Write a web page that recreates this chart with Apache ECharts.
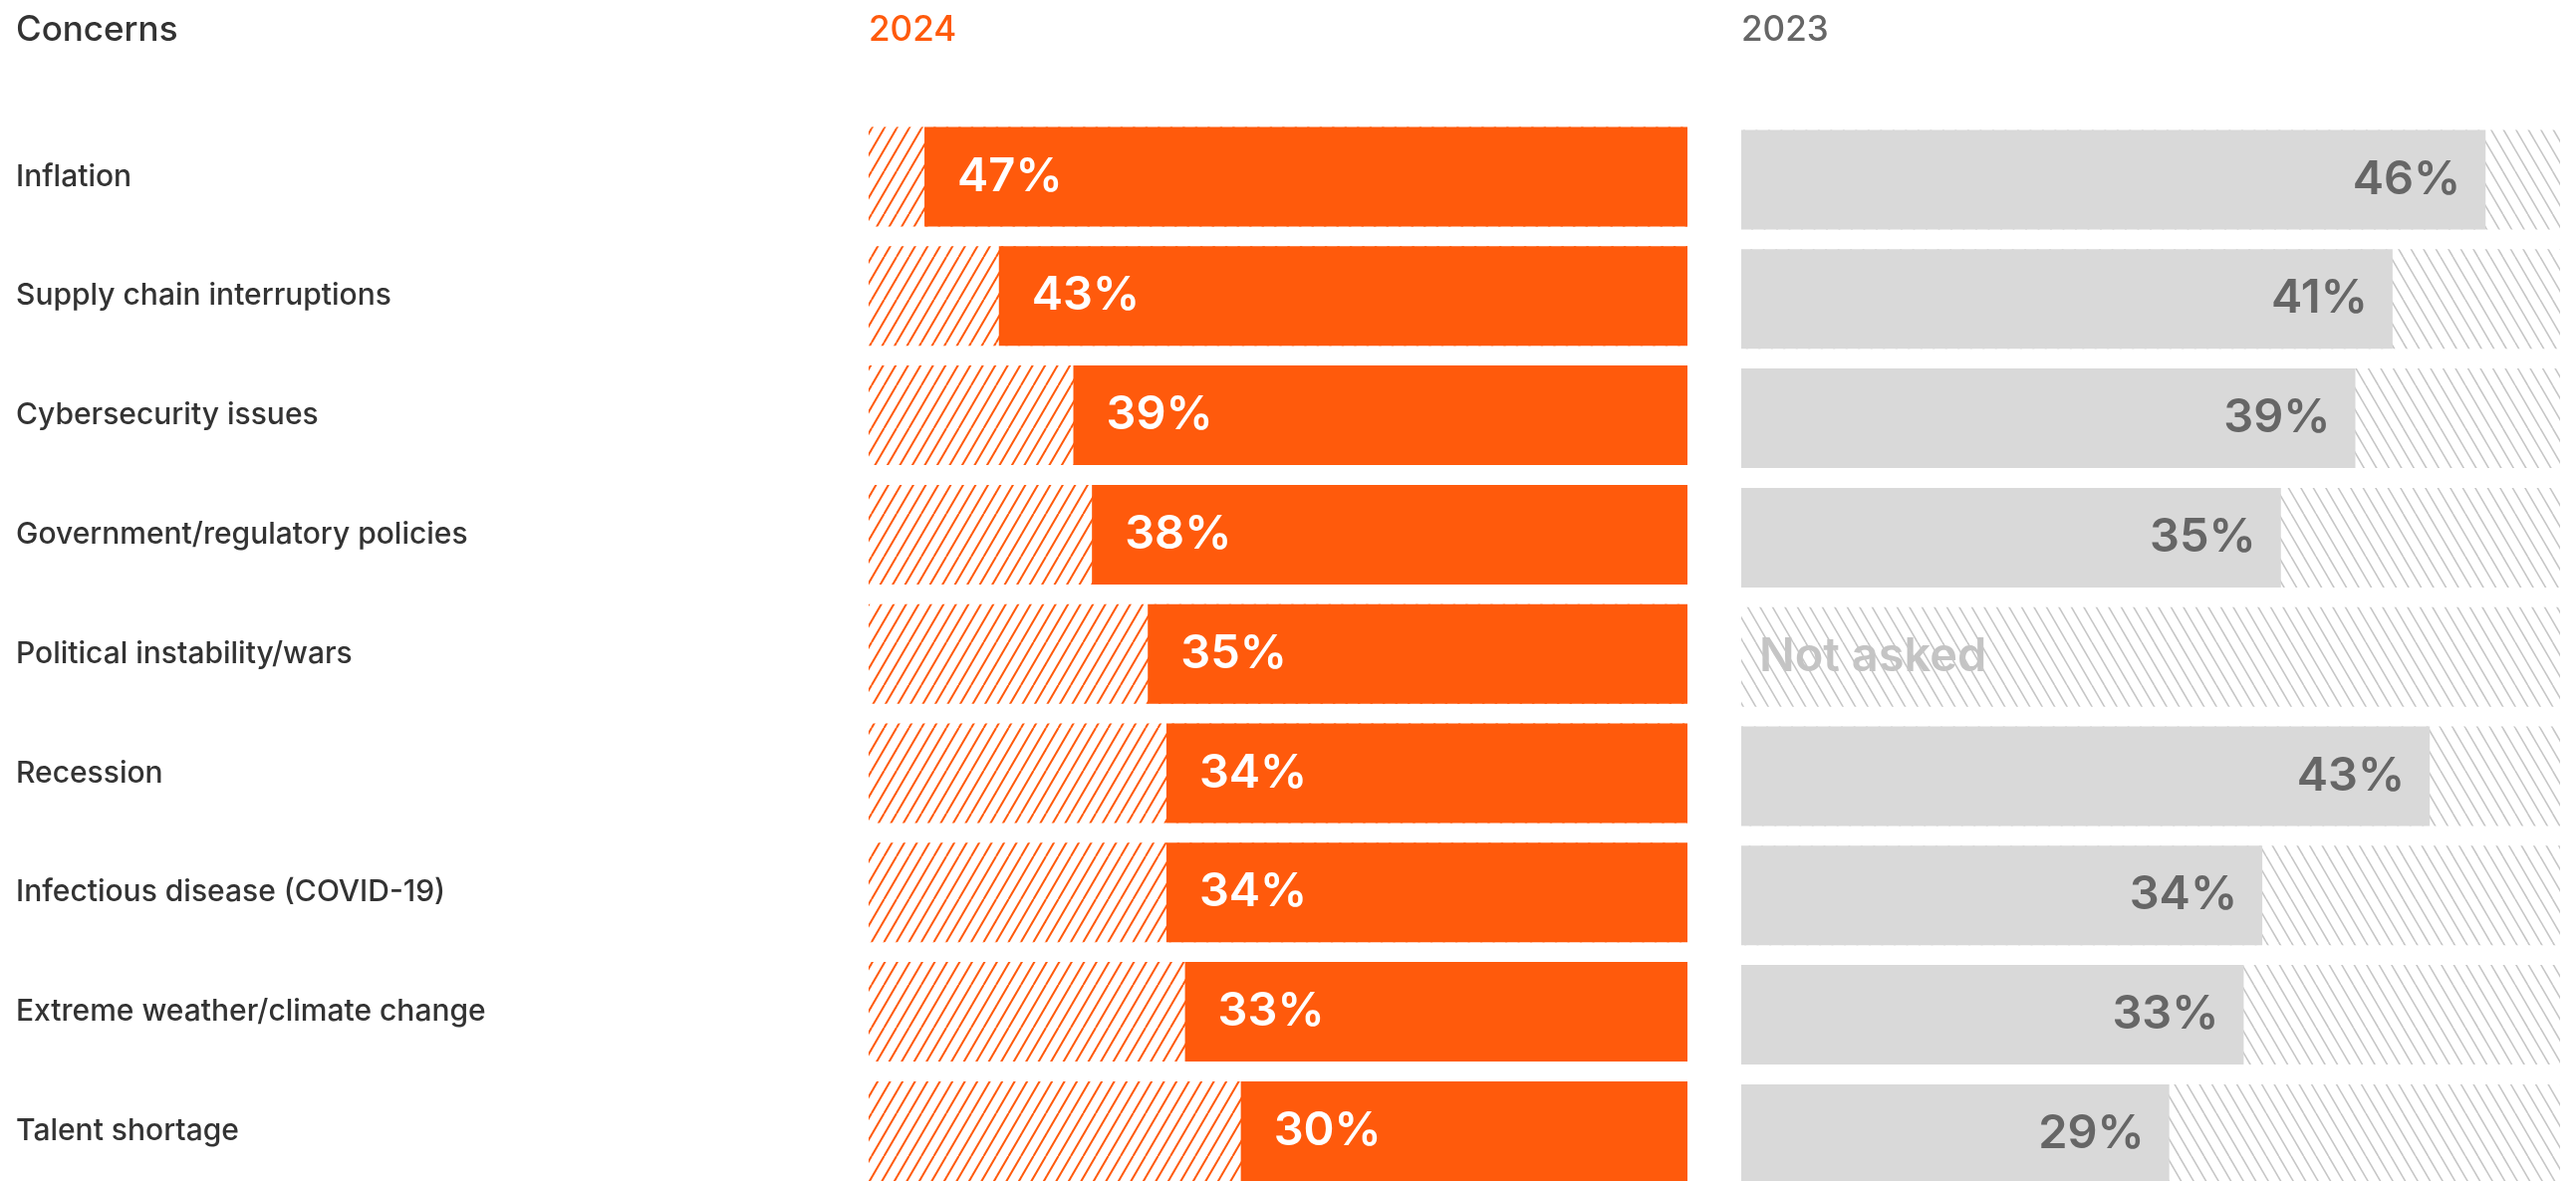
<!DOCTYPE html>
<html>
<head>
<meta charset="utf-8">
<script src="https://cdn.jsdelivr.net/npm/echarts@6/dist/echarts.min.js"></script>
<style>
  html, body { margin: 0; padding: 0; background: #fff; }
  #chart { width: 2586px; height: 1186px; }
</style>
</head>
<body>
<div id="chart"></div>
<script>
const concerns = [
  'Inflation',
  'Supply chain interruptions',
  'Cybersecurity issues',
  'Government/regulatory policies',
  'Political instability/wars',
  'Recession',
  'Infectious disease (COVID-19)',
  'Extreme weather/climate change',
  'Talent shortage',
];
const values2024 = [47, 43, 39, 38, 35, 34, 34, 33, 30];
// null = question not asked in 2023
const values2023 = [46, 41, 39, 35, null, 43, 34, 33, 29];
const years = ['2024', '2023'];

const axisMin = 6;
const axisMax = 50;
const font = 'Inter, "Noto Sans", sans-serif';
const orange = '#ff5a0c';

// diagonal hatch tile used as the track behind each bar
function makeHatch(color, lineWidth, leanRight) {
  const w = 25, h = 43;
  const canvas = document.createElement('canvas');
  canvas.width = w;
  canvas.height = h;
  const ctx = canvas.getContext('2d');
  ctx.strokeStyle = color;
  ctx.lineWidth = lineWidth;
  for (let o = -w; o <= w; o += w / 2) {
    ctx.beginPath();
    if (leanRight) {
      ctx.moveTo(o, h);
      ctx.lineTo(o + w, 0);
    } else {
      ctx.moveTo(o, 0);
      ctx.lineTo(o + w, h);
    }
    ctx.stroke();
  }
  return { image: canvas, repeat: 'repeat' };
}

const chart = echarts.init(document.getElementById('chart'));

// rows sit on the ticks (boundaryGap false), so the grid runs from first to last bar centre
const rowPitch = 119.8;
const rowsHeight = rowPitch * (concerns.length - 1);

const option = {
  backgroundColor: '#fff',
  animation: false,
  grid: [
    { left: 872, top: 177.5, width: 822, height: rowsHeight },
    { left: 1748, top: 180.5, width: 822, height: rowsHeight },
  ],
  xAxis: [
    { gridIndex: 0, type: 'value', min: axisMin, max: axisMax, startValue: axisMin, inverse: true, show: false },
    { gridIndex: 1, type: 'value', min: axisMin, max: axisMax, startValue: axisMin, show: false },
  ],
  yAxis: [
    {
      gridIndex: 0,
      type: 'category',
      data: concerns,
      inverse: true,
      boundaryGap: false,
      axisLine: { show: false, onZero: false },
      axisTick: { show: false },
      axisLabel: {
        align: 'left',
        margin: 856,
        color: '#333',
        fontSize: 30,
        fontWeight: 500,
        fontFamily: font,
      },
    },
    { gridIndex: 1, type: 'category', data: concerns, inverse: true, boundaryGap: false, show: false },
  ],
  series: [
    {
      name: years[0],
      type: 'bar',
      xAxisIndex: 0,
      yAxisIndex: 0,
      data: values2024,
      barWidth: 100,
      clip: false,
      itemStyle: { color: orange },
      showBackground: true,
      backgroundStyle: { color: makeHatch(orange, 2, true) },
      label: {
        show: true,
        position: 'insideLeft',
        distance: 33,
        formatter: '{c}%',
        color: '#fff',
        fontSize: 47,
        fontWeight: 600,
        fontFamily: font,
      },
    },
    {
      name: years[1],
      type: 'bar',
      xAxisIndex: 1,
      yAxisIndex: 1,
      data: values2023,
      barWidth: 100,
      clip: false,
      itemStyle: { color: '#d9d9d9' },
      showBackground: true,
      backgroundStyle: { color: makeHatch('#c6c6c6', 1.6, false) },
      label: {
        show: true,
        position: 'insideRight',
        distance: 25,
        formatter: '{c}%',
        color: '#666',
        fontSize: 47,
        fontWeight: 600,
        fontFamily: font,
      },
    },
  ],
};
chart.setOption(option);

// headers + "Not asked" placed from the axes
const missing = values2023.findIndex((v) => v == null);
const missPt = chart.convertToPixel({ xAxisIndex: 1, yAxisIndex: 1 }, [axisMin, concerns[missing]]);

chart.setOption({
  graphic: [
    { type: 'text', left: 16, top: 13, style: { text: 'Concerns', fill: '#333', font: '500 35px ' + font } },
    { type: 'text', left: 872, top: 13, style: { text: years[0], fill: orange, font: '500 35px ' + font } },
    { type: 'text', left: 1748, top: 13, style: { text: years[1], fill: '#666', font: '500 35px ' + font } },
    {
      type: 'text',
      x: missPt[0] + 18,
      y: missPt[1],
      style: { text: 'Not asked', fill: '#c4c4c4', font: '600 47px ' + font, verticalAlign: 'middle' },
    },
  ],
});
</script>
</body>
</html>
